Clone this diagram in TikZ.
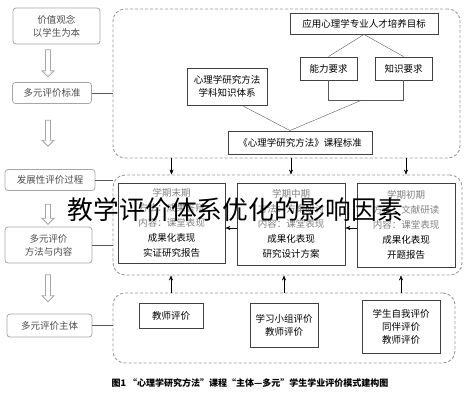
\documentclass[tikz,border=0pt]{standalone}
\usepackage{fontspec}
\setmainfont{Noto Sans CJK SC}
\usetikzlibrary{shapes.arrows,arrows.meta}

\begin{document}
\begin{tikzpicture}
  [x=1pt,y=-1pt,
   every node/.style={font=\fontsize{9.5}{13}\selectfont,align=center,inner sep=0pt},
   lbox/.style={draw=gray!70,rounded corners=3pt,thick,text=gray!60!black},
   box/.style={draw=black!75,line width=0.9pt},
   region/.style={draw=gray!80,densely dashed,line width=0.9pt,rounded corners=12pt},
   down/.style={single arrow,draw=gray!70,thick,shape border rotate=270,minimum width=12pt,single arrow head extend=2pt,inner sep=1pt},
   tip/.style={-{Stealth[length=5pt,width=4pt]}}]
  \useasboundingbox (0,0) rectangle (469,400);

  % left column
  \node[lbox,minimum width=87pt,minimum height=36pt] (n1) at (56.5,26) {价值观念\\以学生为本};
  \node[lbox,minimum width=79pt,minimum height=21pt] (n2) at (52,93) {多元评价标准};
  \node[lbox,minimum width=90pt,minimum height=21pt] (n3) at (50,180) {发展性评价过程};
  \node[lbox,minimum width=87pt,minimum height=36pt] (n4) at (48.5,245) {多元评价\\方法与内容};
  \node[lbox,minimum width=85pt,minimum height=23pt] (n5) at (49.5,325.5) {多元评价主体};

  \node[down,minimum height=27pt] (d1) at (48,62) {};
  \node[down,minimum height=26pt] (d2) at (48,132) {};
  \node[down,minimum height=20pt] (d3) at (48,213) {};
  \node[down,minimum height=27pt] (d4) at (48,287) {};

  % dashed regions
  \node[region,minimum width=347pt,minimum height=149pt] (top) at (286.5,83.5) {};
  \node[region,minimum width=349pt,minimum height=100pt] (mid) at (287.5,225) {};
  \node[region,minimum width=342pt,minimum height=70pt] (bot) at (284,328) {};

  \foreach \from/\to in {n2/top, n3/mid, n4/mid, n5/bot}
    \draw[gray!70!black] (\from.east) -- (\from.east -| \to.west);

  % top region
  \node[box,minimum width=148pt,minimum height=21pt] (t1) at (364,23.5) {应用心理学专业人才培养目标};
  \node[box,minimum width=57pt,minimum height=23pt] (t2) at (328.5,68.5) {能力要求};
  \node[box,minimum width=57pt,minimum height=23pt] (t3) at (403.5,68.5) {知识要求};
  \node[box,minimum width=80pt,minimum height=37pt] (t4) at (227,86.5) {心理学研究方法\\学科知识体系};
  \node[box,minimum width=144pt,minimum height=23pt] (t5) at (300,142.5) {《心理学研究方法》课程标准};

  \draw[gray!70!black] (t1.south) -- (t2.north);
  \draw[gray!70!black] (t1.south) -- (t3.north);
  \draw[gray!70!black] (t2.south) -- ++(0,20) -| (t3.south);
  \coordinate (j) at (362,100);
  \coordinate (k) at ([xshift=-10pt]t5.north);
  \draw[gray!70!black] (j) -- (k);
  \draw[gray!70!black] ([xshift=15pt]t4.south) -- (k);

  % middle region
  \node[box,minimum width=107pt,minimum height=80pt,font=\fontsize{9.5}{15}\selectfont] (m1) at (171.5,223)
    {\textcolor{gray}{学期末期}\\\textcolor{gray}{方法：成果答辩}\\\textcolor{gray}{内容：课堂表现}\\成果化表现\\实证研究报告};
  \node[box,minimum width=108pt,minimum height=82pt,font=\fontsize{9.5}{15}\selectfont] (m2) at (291,224)
    {\textcolor{gray}{学期中期}\\\textcolor{gray}{方法：方案研讨}\\\textcolor{gray}{内容：课堂表现}\\成果化表现\\研究设计方案};
  \node[box,minimum width=98pt,minimum height=84pt,font=\fontsize{9.5}{15}\selectfont] (m3) at (406,225)
    {\textcolor{gray}{学期初期}\\\textcolor{gray}{方法：文献研读}\\\textcolor{gray}{内容：课堂表现}\\成果化表现\\开题报告};

  \draw[tip] ([yshift=-3pt]m3.west) -- ([yshift=-3pt]m3.west -| m2.east);
  \draw[tip] ([yshift=-4pt]m2.west) -- ([yshift=-4pt]m2.west -| m1.east);

  % bottom region
  \node[box,minimum width=64pt,minimum height=25pt] (b1) at (171,315.5) {教师评价};
  \node[box,minimum width=68pt,minimum height=44pt] (b2) at (284,325) {学习小组评价\\教师评价};
  \node[box,minimum width=78pt,minimum height=53pt] (b3) at (401,326.5) {学生自我评价\\同伴评价\\教师评价};

  \foreach \m in {m1, m2, m3}
    \draw[tip] (top.south -| \m) -- (mid.north -| \m);
  \foreach \b in {b1, b2, b3}
    \draw[tip] (bot.north -| \b) -- (mid.south -| \b);

  \node[font=\bfseries\fontsize{9}{11}\selectfont] (cap) at (250,383)
    {图1 “心理学研究方法”课程“主体—多元”学生学业评价模式建构图};

  \node[font=\fontsize{25.8}{30}\selectfont] (title) at (235.5,210) {教学评价体系优化的影响因素};
\end{tikzpicture}
\end{document}
